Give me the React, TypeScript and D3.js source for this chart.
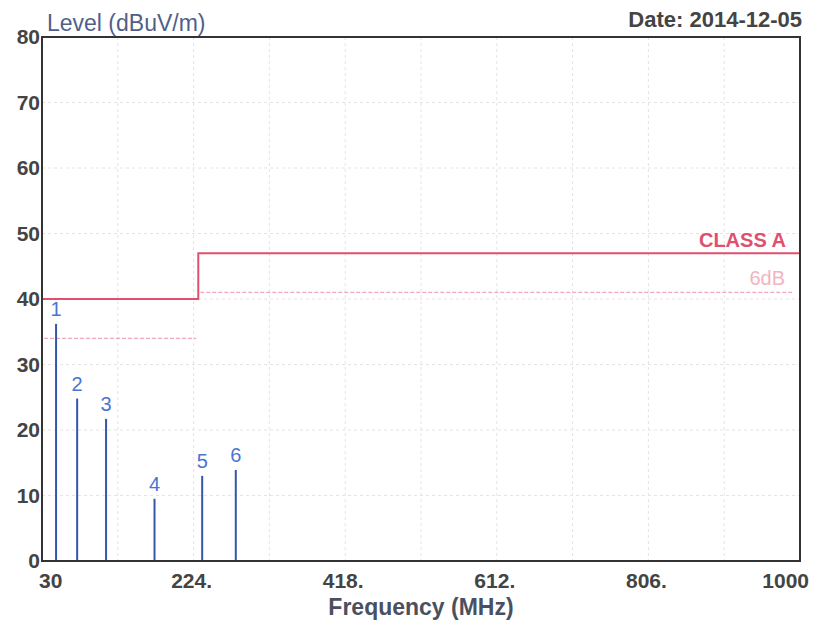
import React from "react";
import * as d3 from "d3";

const xTicks = [30, 224, 418, 612, 806, 1000];
const xTickLabels = ["30", "224.", "418.", "612.", "806.", "1000"];
const yTicks = [0, 10, 20, 30, 40, 50, 60, 70, 80];
const xGrid = [127, 224, 321, 418, 515, 612, 709, 806, 903];
const yGrid = [10, 20, 30, 40, 50, 60, 70];

const markerIds = ["1", "2", "3", "4", "5", "6"];
const markerFreq = [48, 75, 112, 174, 235, 278];
const markerLevel = [36.2, 24.8, 21.7, 9.5, 13.0, 13.9];

const limitFreq = [30, 230, 230, 1000];
const limitLevel = [40, 40, 47, 47];

const marginStart = [30, 230];
const marginEnd = [230, 1000];
const marginLevel = [34, 41];

const W = 814;
const H = 627;
const FONT = "'Liberation Sans', Arial, sans-serif";

export default function App() {
  const x = d3.scaleLinear().domain([30, 1000]).range([42, 800]);
  const y = d3.scaleLinear().domain([0, 80]).range([561, 37]);

  const limitLine = d3
    .line<number>()
    .x((_, i) => x(limitFreq[i]))
    .y((_, i) => y(limitLevel[i]))(limitFreq) as string;

  return (
    <svg
      width={W}
      height={H}
      style={{ position: "absolute", left: 0, top: 0, background: "#fff" }}
      fontFamily={FONT}
    >
      {/* grid */}
      {xGrid.map((g) => (
        <line
          key={"xg" + g}
          x1={x(g)}
          x2={x(g)}
          y1={y(80)}
          y2={y(0)}
          stroke="#e4e4e4"
          strokeWidth={1}
          strokeDasharray="3,3"
        />
      ))}
      {yGrid.map((g) => (
        <line
          key={"yg" + g}
          x1={x(30)}
          x2={x(1000)}
          y1={y(g)}
          y2={y(g)}
          stroke="#e4e4e4"
          strokeWidth={1}
          strokeDasharray="3,3"
        />
      ))}

      {/* 6dB margin */}
      {marginLevel.map((lv, i) => (
        <line
          key={"m" + i}
          x1={x(marginStart[i]) + 2}
          x2={x(marginEnd[i]) - (i === 0 ? 2 : 8)}
          y1={y(lv)}
          y2={y(lv)}
          stroke="#f0a8b8"
          strokeWidth={1.3}
          strokeDasharray="4,2"
        />
      ))}

      {/* class A limit */}
      <path d={limitLine} fill="none" stroke="#e0506e" strokeWidth={2} />

      {/* markers */}
      {markerFreq.map((f, i) => (
        <g key={"mk" + i}>
          <line
            x1={x(f)}
            x2={x(f)}
            y1={y(0.1)}
            y2={y(markerLevel[i])}
            stroke="#3556a8"
            strokeWidth={2}
          />
          <text
            x={x(f)}
            y={y(markerLevel[i]) - 8}
            textAnchor="middle"
            fontSize={20}
            fill="#4a74d4"
          >
            {markerIds[i]}
          </text>
        </g>
      ))}

      {/* frame */}
      <rect
        x={x(30)}
        y={y(80)}
        width={x(1000) - x(30)}
        height={y(0) - y(80)}
        fill="none"
        stroke="#333"
        strokeWidth={2}
      />

      {/* y tick labels */}
      {yTicks.map((t) => (
        <text
          key={"yt" + t}
          x={40}
          y={y(t) + 7}
          textAnchor="end"
          fontSize={21}
          fontWeight="bold"
          fill="#444"
        >
          {t}
        </text>
      ))}

      {/* x tick labels */}
      {xTicks.map((t, i) => (
        <text
          key={"xt" + t}
          x={i === 0 ? x(t) - 3 : i === xTicks.length - 1 ? x(t) + 9 : x(t) - 2}
          y={588}
          textAnchor={i === 0 ? "start" : i === xTicks.length - 1 ? "end" : "middle"}
          fontSize={21}
          fontWeight="bold"
          fill="#444"
        >
          {xTickLabels[i]}
        </text>
      ))}

      {/* titles */}
      <text x={47} y={31} fontSize={23} fill="#4f5f8a">
        Level (dBuV/m)
      </text>
      <text x={802} y={27} textAnchor="end" fontSize={22} fontWeight="bold" fill="#444">
        Date: 2014-12-05
      </text>
      <text x={421} y={615} textAnchor="middle" fontSize={23} fontWeight="bold" fill="#4a5060">
        Frequency (MHz)
      </text>

      {/* limit labels */}
      <text x={786} y={247} textAnchor="end" fontSize={20} fontWeight="bold" fill="#e0506e">
        CLASS A
      </text>
      <text x={785} y={285} textAnchor="end" fontSize={20} fill="#f2b4c2">
        6dB
      </text>
    </svg>
  );
}
